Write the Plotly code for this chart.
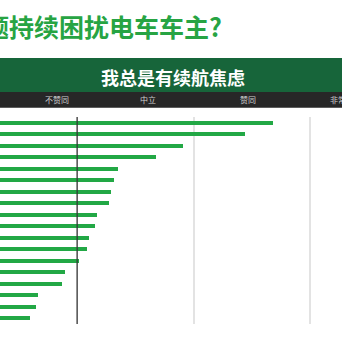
import plotly.graph_objects as go

# ---- data ----
categories = [str(i) for i in range(1, 19)]
# bar end positions in scale units (0 = neutral black line, 1 = one grid step)
values = [1.682, 1.439, 0.905, 0.673, 0.353, 0.313, 0.293, 0.273, 0.170,
          0.150, 0.102, 0.084, 0.016, -0.102, -0.130, -0.333, -0.355, -0.407]
scale_labels = ["不赞同", "中立", "赞同", "非常赞同"]
title_text = "题持续困扰电车车主?"
header_text = "我总是有续航焦虑"

W = H = 342
BASE = -1.0
GREEN = "#22a845"

fig = go.Figure()
fig.add_trace(go.Bar(
    y=categories,
    x=[v - BASE for v in values],
    base=BASE,
    orientation="h",
    width=0.36,
    marker=dict(color=GREEN, line=dict(width=0)),
    hoverinfo="skip",
))

def px_y(y):
    return 1 - y / H

def px_x(x):
    return x / W

shapes = [
    dict(type="rect", xref="paper", yref="paper", x0=0, x1=1,
         y0=px_y(92), y1=px_y(58), fillcolor="#17653a", line=dict(width=0), layer="below"),
    dict(type="rect", xref="paper", yref="paper", x0=0, x1=1,
         y0=px_y(107.7), y1=px_y(92), fillcolor="#272727", line=dict(width=0), layer="below"),
    dict(type="line", xref="x", yref="y domain", x0=0, x1=0, y0=0, y1=1,
         line=dict(color="#333333", width=1.2), layer="above"),
]

label_x = [56.7, 148.3, 247.5, 328.3]
annotations = [
    dict(text=f"<b>{title_text}</b>", xref="paper", yref="paper",
         x=px_x(224), y=px_y(25.5), xanchor="right", yanchor="middle", showarrow=False,
         font=dict(family="Noto Sans CJK SC", size=25, color="#27a443")),
    dict(text=f"<b>{header_text}</b>", xref="paper", yref="paper",
         x=px_x(173), y=px_y(77), xanchor="center", yanchor="middle", showarrow=False,
         font=dict(family="Noto Sans CJK SC", size=18, color="white")),
]
for i, (lab, lx) in enumerate(zip(scale_labels, label_x)):
    annotations.append(dict(
        text=lab, xref="paper", yref="paper", x=px_x(lx), y=px_y(99.8),
        xanchor="left" if i == 3 else "center", yanchor="middle", showarrow=False,
        font=dict(family="Noto Sans CJK SC", size=8, color="#cfcfcf")))

fig.update_layout(
    width=W, height=H,
    margin=dict(l=0, r=0, t=0, b=0),
    paper_bgcolor="white", plot_bgcolor="white",
    showlegend=False,
    bargap=0,
    shapes=shapes,
    annotations=annotations,
    xaxis=dict(range=[-77.15 / 116.65, (W - 77.15) / 116.65], dtick=1, tick0=0,
               showgrid=True, gridcolor="#e3e3e3", gridwidth=1.5,
               zeroline=False, showticklabels=False, ticks="", fixedrange=True),
    yaxis=dict(domain=[px_y(324), px_y(117)], range=[17.5, -0.5],
               showgrid=False, zeroline=False, showticklabels=False, ticks="",
               type="category"),
)

fig.write_html("out.html")
